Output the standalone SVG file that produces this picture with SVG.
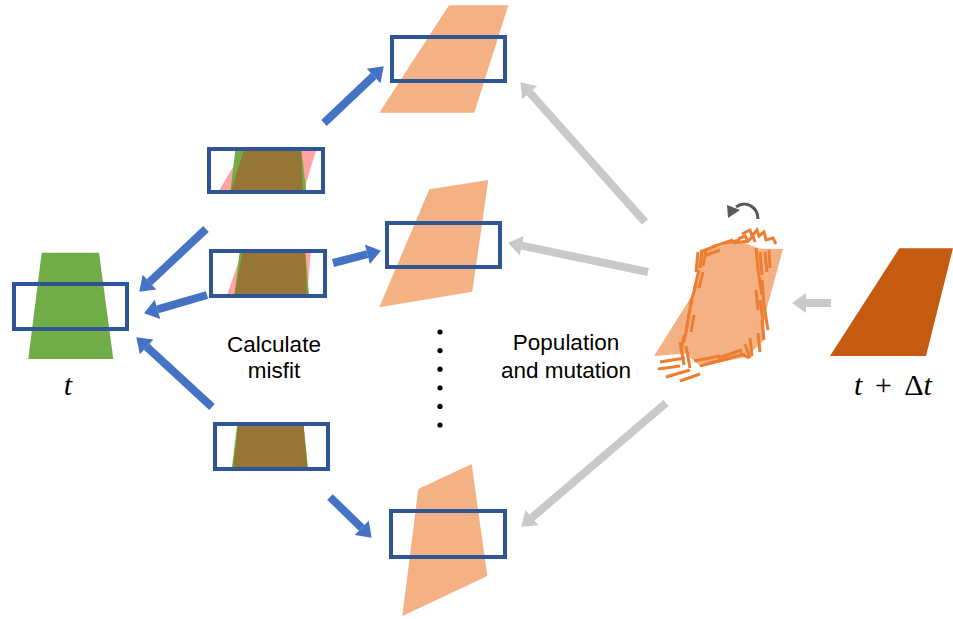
<svg xmlns="http://www.w3.org/2000/svg" width="953" height="619" viewBox="0 0 953 619">
<style>
.box{fill:none;stroke:#2F5597;stroke-width:4}
.org{fill:#F4B183}
.grn{fill:#70AD47}
.pnk{fill:#FFA3A3}
.brn{fill:#967634}
.ba{stroke:#4472C4;stroke-width:8;fill:none}
.ga{stroke:#C9C9C9;stroke-width:8;fill:none}
.mut line,.mut polyline{stroke:#ED7D31;stroke-width:3;fill:none}
.lbl{font-family:"Liberation Sans",Arial,sans-serif;font-size:22.5px;fill:#000;text-anchor:middle}
.math{font-family:"Liberation Serif","Times New Roman",serif;font-size:30px;fill:#000;text-anchor:middle}
</style>
<defs>
<marker id="hb" markerUnits="userSpaceOnUse" viewBox="0 -10 14 20" refX="0" refY="0" markerWidth="14" markerHeight="20" orient="auto" overflow="visible"><path d="M0,-10 L14,0 L0,10 z" fill="#4472C4"/></marker>
<marker id="hg" markerUnits="userSpaceOnUse" viewBox="0 -10 14 20" refX="0" refY="0" markerWidth="14" markerHeight="20" orient="auto" overflow="visible"><path d="M0,-10 L14,0 L0,10 z" fill="#C9C9C9"/></marker>
<clipPath id="c1"><rect x="209" y="149" width="114" height="43"/></clipPath>
<clipPath id="c2"><rect x="211" y="251" width="114" height="45"/></clipPath>
<clipPath id="c3"><rect x="215" y="424" width="113" height="45"/></clipPath>
</defs>

<g id="shape-t">
<polygon class="grn" points="41.7,252.7 99,252.7 113.3,359 28.3,359"/>
<rect class="box" x="14" y="284" width="113" height="45"/>
<text class="math" x="68" y="395" font-style="italic">t</text>
</g>

<g id="candidate-1">
<polygon class="org" points="449,5.3 508.3,5.3 474.3,112.7 379.3,112.7"/>
<rect class="box" x="392" y="37" width="113" height="44"/>
</g>
<g id="candidate-2">
<polygon class="org" points="429.3,189.3 488.3,180 472.3,291.7 379.3,307.3"/>
<rect class="box" x="387" y="223" width="113" height="44"/>
</g>
<g id="candidate-3">
<polygon class="org" points="418.3,489 471.7,464 487.3,576 402.3,616"/>
<rect class="box" x="391" y="511" width="114" height="46"/>
</g>

<g id="misfit-1">
<g clip-path="url(#c1)">
<polygon class="pnk" points="245,147 317,147 303,194 217,194"/>
<polygon class="grn" points="235.7,147 301,147 306.7,194 230,194"/>
<polygon class="brn" points="245,147 301,147 303,194 230,194"/>
</g>
<rect class="box" x="209" y="149" width="114" height="43"/>
</g>
<g id="misfit-2">
<g clip-path="url(#c2)">
<polygon class="pnk" points="243,249 311,249 307,298 226,298"/>
<polygon class="grn" points="240,249 305,249 309.3,298 234,298"/>
<polygon class="brn" points="243,249 305,249 307,298 234,298"/>
</g>
<rect class="box" x="211" y="251" width="114" height="45"/>
</g>
<g id="misfit-3">
<g clip-path="url(#c3)">
<polygon class="grn" points="237.5,422 303.3,422 308.3,471 231.5,471"/>
<polygon class="brn" points="238.5,422 303.3,422 307.5,471 233,471"/>
</g>
<rect class="box" x="215" y="424" width="113" height="45"/>
</g>

<g id="mutation">
<polygon class="org" points="722,248 783,249 756,348 654,356"/>
<polygon class="org" points="700,252 740,241 760,249 765,300 764,340 746,357 700,366 684,352 688,318 694,288"/>
<g class="mut">
<polyline points="742,234 750,230 752,236 757,230 759,236 764,232 766,240 773,238 776,244"/>
<polyline points="738,239 745,236 748,241 753,236 755,242"/>
<line x1="700" y1="252" x2="716" y2="246"/>
<line x1="704" y1="256" x2="720" y2="250"/>
<line x1="712" y1="247" x2="733" y2="240"/>
<line x1="722" y1="244" x2="740" y2="240"/>
<line x1="733" y1="243" x2="749" y2="241"/>
<line x1="698" y1="252" x2="696" y2="272"/>
<line x1="702" y1="250" x2="700" y2="268"/>
<line x1="706" y1="250" x2="703" y2="266"/>
<line x1="699" y1="270" x2="694" y2="290"/>
<line x1="703" y1="272" x2="699" y2="288"/>
<line x1="696" y1="285" x2="690" y2="305"/>
<line x1="692" y1="300" x2="688" y2="318"/>
<line x1="690" y1="310" x2="686" y2="330"/>
<line x1="694" y1="315" x2="691" y2="332"/>
<line x1="688" y1="322" x2="684" y2="342"/>
<line x1="684" y1="335" x2="681" y2="352"/>
<line x1="680" y1="342" x2="684" y2="365"/>
<line x1="686" y1="346" x2="690" y2="368"/>
<line x1="660" y1="362" x2="685" y2="358"/>
<line x1="658" y1="369" x2="680" y2="366"/>
<line x1="666" y1="377" x2="690" y2="370"/>
<line x1="680" y1="381" x2="700" y2="374"/>
<line x1="694" y1="361" x2="720" y2="356"/>
<line x1="700" y1="366" x2="730" y2="358"/>
<line x1="710" y1="363" x2="745" y2="354"/>
<line x1="718" y1="358" x2="742" y2="350"/>
<line x1="740" y1="353" x2="749" y2="358"/>
<line x1="745" y1="344" x2="750" y2="358"/>
<line x1="750" y1="338" x2="752" y2="356"/>
<line x1="756" y1="248" x2="758" y2="270"/>
<line x1="760" y1="252" x2="762" y2="275"/>
<line x1="765" y1="252" x2="767" y2="272"/>
<line x1="769" y1="250" x2="770" y2="268"/>
<line x1="758" y1="270" x2="762" y2="295"/>
<line x1="762" y1="280" x2="764" y2="305"/>
<line x1="756" y1="290" x2="758" y2="310"/>
<line x1="760" y1="300" x2="763" y2="320"/>
<line x1="764" y1="305" x2="768" y2="330"/>
<line x1="762" y1="320" x2="764" y2="340"/>
<line x1="758" y1="333" x2="760" y2="352"/>
</g>
<path d="M758,219 C758,207 746,200 736,207" fill="none" stroke="#595959" stroke-width="3"/>
<polygon points="728,218 727,205 740,210" fill="#595959"/>
</g>

<g id="shape-t-dt">
<polygon fill="#C55A11" points="899.3,248.3 953,248.3 953,248.3 926,356 830,356"/>
<text class="math" x="893" y="395" word-spacing="5"><tspan font-style="italic">t</tspan> + Δ<tspan font-style="italic">t</tspan></text>
</g>

<g id="connectors">
<line class="ba" x1="324" y1="123" x2="373.6" y2="76" marker-end="url(#hb)"/>
<line class="ba" x1="206" y1="229" x2="149.5" y2="282.1" marker-end="url(#hb)"/>
<line class="ba" x1="207" y1="295" x2="157.5" y2="309.4" marker-end="url(#hb)"/>
<line class="ba" x1="333" y1="263" x2="367.4" y2="254.2" marker-end="url(#hb)"/>
<line class="ba" x1="212" y1="407" x2="146.6" y2="346.8" marker-end="url(#hb)"/>
<line class="ba" x1="330" y1="497" x2="361.7" y2="527.9" marker-end="url(#hb)"/>
<line class="ga" x1="645" y1="222" x2="529.7" y2="92.7" marker-end="url(#hg)"/>
<line class="ga" x1="648" y1="272" x2="521.7" y2="245.7" marker-end="url(#hg)"/>
<line class="ga" x1="666" y1="403" x2="531.9" y2="517.6" marker-end="url(#hg)"/>
<line class="ga" x1="831" y1="303" x2="806" y2="303" marker-end="url(#hg)"/>
</g>

<g id="labels">
<text class="lbl" x="274" y="352">Calculate</text>
<text class="lbl" x="274" y="378">misfit</text>
<text class="lbl" x="566" y="350">Population</text>
<text class="lbl" x="566" y="378">and mutation</text>
<g fill="#000">
<circle cx="440" cy="332" r="2.6"/>
<circle cx="440" cy="350.6" r="2.6"/>
<circle cx="440" cy="369.2" r="2.6"/>
<circle cx="440" cy="387.8" r="2.6"/>
<circle cx="440" cy="406.4" r="2.6"/>
<circle cx="440" cy="425" r="2.6"/>
</g>
</g>
</svg>
